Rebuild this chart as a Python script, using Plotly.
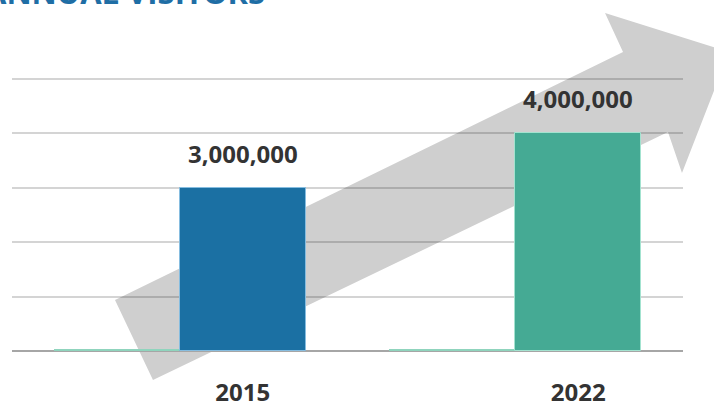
import plotly.graph_objects as go

# Annual visitor counts
years = ["2015", "2022"]
visitors = [3000000, 4000000]
base_series = [45000, 45000]
title_text = "ANNUAL VISITORS"

W, H = 714, 405
L, R, T, B = 12, 683, 68, 351  # plot area in pixels

bar_w = 0.375
x_pos = list(range(len(years)))


def px(x):
    return (x - L) / (R - L)


def py(y):
    return (B - y) / (B - T)


# growth arrow outline, pixel space
arrow_pts = [(115, 300), (623, 52), (605, 13), (729, 52),
             (682, 173), (668, 132), (153, 380)]
arrow_path = "M " + " L ".join(f"{px(a):.4f},{py(b):.4f}" for a, b in arrow_pts) + " Z"

fig = go.Figure()

fig.add_trace(go.Bar(
    x=x_pos, y=base_series, width=bar_w, offset=-bar_w,
    marker=dict(color="#8fd4bd", line=dict(width=0)),
    showlegend=False, hoverinfo="skip",
))
fig.add_trace(go.Bar(
    x=x_pos, y=visitors, width=bar_w, offset=0,
    marker=dict(color=["#1b70a3", "#45aa94"],
                line=dict(color=["#86bde0", "#a3e3d0"], width=1)),
    showlegend=False,
))

for xi, v in zip(x_pos, visitors):
    fig.add_annotation(
        x=xi + bar_w / 2, y=v, text=f"{v:,}", showarrow=False,
        xanchor="center", yanchor="bottom", yshift=16,
        font=dict(family="Open Sans", size=24, color="#333333", weight="bold"),
    )

fig.add_annotation(
    xref="paper", yref="paper", x=px(267), y=py(15),
    text=title_text, showarrow=False, xanchor="right", yanchor="bottom",
    font=dict(family="Open Sans", size=31, color="#1f6ea5", weight="bold"),
)

fig.add_shape(type="path", path=arrow_path, xref="paper", yref="paper",
              fillcolor="#cfcfcf", line=dict(width=0), layer="below")

fig.update_layout(
    width=W, height=H,
    margin=dict(l=L, r=W - R, t=T, b=H - B, pad=0, autoexpand=False),
    paper_bgcolor="white", plot_bgcolor="rgba(0,0,0,0)",
    barmode="overlay", bargap=0,
    xaxis=dict(
        range=[-0.5, 1.5], showgrid=False, zeroline=False, showline=False,
        tickvals=[xi + bar_w / 2 for xi in x_pos], ticktext=years,
        ticks="", ticklabelstandoff=25, automargin=False,
        tickfont=dict(family="Open Sans", size=24, color="#333333", weight="bold"),
    ),
    yaxis=dict(
        range=[0, 5200000], dtick=1000000, showticklabels=False,
        gridcolor="rgba(0,0,0,0.17)", gridwidth=1.5, automargin=False,
        zeroline=True, zerolinecolor="#a6a6a6", zerolinewidth=2,
        showline=False, ticks="",
    ),
)

fig.write_html("out.html")
